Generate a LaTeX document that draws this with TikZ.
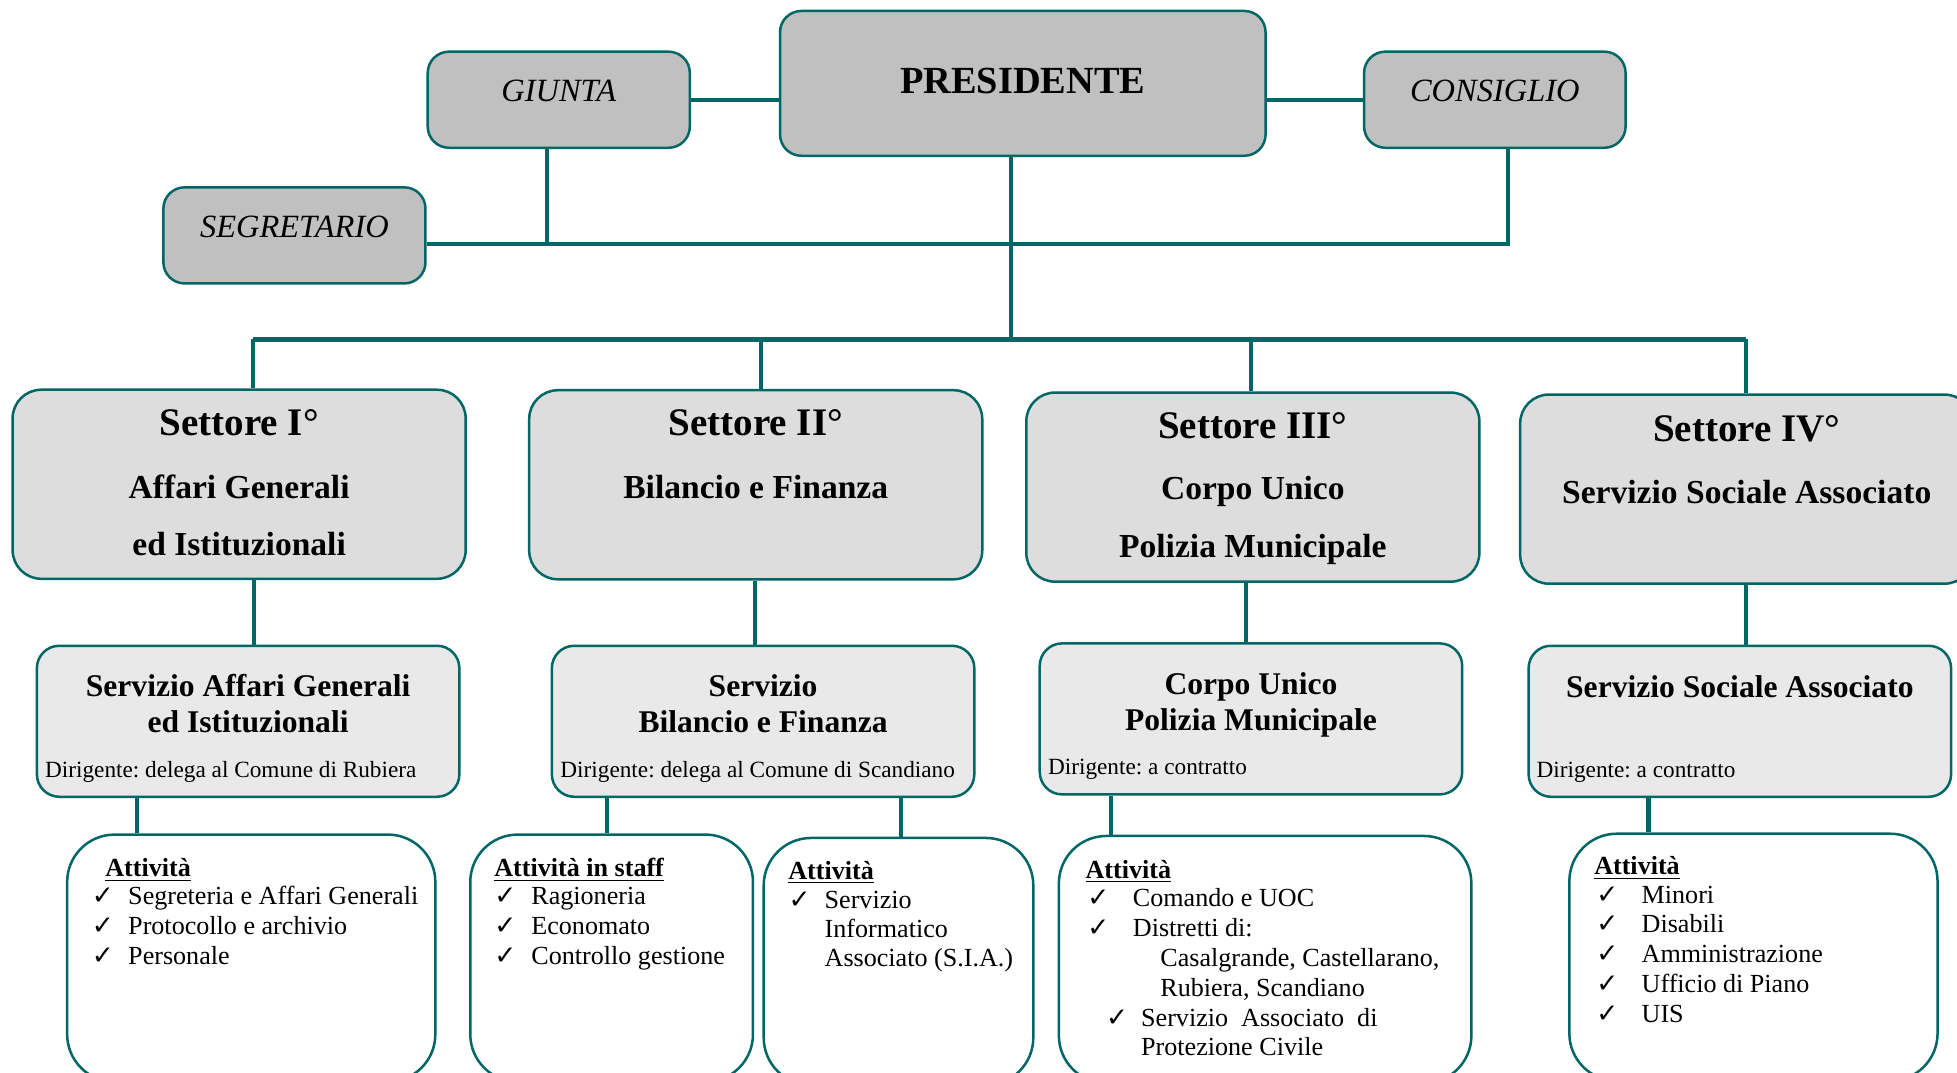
\documentclass[tikz,border=0pt]{standalone}
\usepackage{fontspec}
\setmainfont{Liberation Serif}
\newfontfamily\symfont{DejaVu Sans}
\usetikzlibrary{positioning}
\frenchspacing

\definecolor{tealline}{RGB}{0,102,102}
\definecolor{topgray}{RGB}{192,192,192}
\definecolor{settgray}{RGB}{221,221,221}
\definecolor{servgray}{RGB}{233,233,233}

\newcommand{\fpres}{\fontsize{17.5}{20}\selectfont\bfseries}
\newcommand{\ftop}{\fontsize{14.8}{16}\selectfont\itshape}
\newcommand{\fsett}{\fontsize{17.8}{19}\selectfont\bfseries}
\newcommand{\fsub}{\fontsize{15.3}{16}\selectfont\bfseries}
\newcommand{\fserv}{\fontsize{14.4}{15}\selectfont\bfseries}
\newcommand{\fdir}{\fontsize{10.6}{11}\selectfont}
\newcommand{\fitem}{\fontsize{11.9}{13.5}\selectfont}
\newcommand{\chk}{{\symfont\fontsize{12}{13}\selectfont ✓}}

\tikzset{
  topbox/.style={draw=tealline, fill=topgray, line width=0.4mm, rounded corners=3.4mm, inner sep=0pt, minimum width=42mm, minimum height=15.4mm},
  settbox/.style={draw=tealline, fill=settgray, line width=0.4mm, rounded corners=4.6mm, inner sep=0pt, minimum width=72.6mm, minimum height=30.3mm},
  servbox/.style={draw=tealline, fill=servgray, line width=0.4mm, rounded corners=3.6mm, inner sep=0pt, minimum width=67.7mm, minimum height=24.2mm},
  attbox/.style={draw=tealline, fill=white, line width=0.4mm, rounded corners=7.6mm, inner sep=0pt, minimum height=39.6mm, anchor=north west},
  link/.style={draw=tealline, line width=0.65mm},
  buslink/.style={draw=tealline, line width=0.9mm},
  txt/.style={inner sep=0pt, anchor=base},
  dir/.style={inner sep=0pt, anchor=base west, font=\fdir},
  item/.style={inner sep=0pt, anchor=base west, font=\fitem}
}

\begin{document}
\begin{tikzpicture}[x=0.2mm, y=-0.2mm]
  \useasboundingbox (0,0) rectangle (1568,859);
  \clip (0,0) rectangle (1568,859);

  % vertici
  \node[topbox, minimum width=77.8mm, minimum height=23.2mm] (pres) at (819.5,66.8) {};
  \node[topbox] (giunta) at (447.7,79.9) {};
  \node[topbox, minimum width=41.9mm] (consiglio) at (1197.7,79.9) {};
  \node[topbox] (segr) at (235.9,188.6) {};
  \node[txt, font=\fpres] (prestxt) at (819.5,75) {PRESIDENTE};
  \node[txt, font=\ftop] (giuntatxt) at (447.7,81) {GIUNTA};
  \node[txt, font=\ftop] (consigliotxt) at (1197.7,81) {CONSIGLIO};
  \node[txt, font=\ftop] (segrtxt) at (235.9,190) {SEGRETARIO};

  % linee tra i vertici
  \draw[link] (giunta.east) -- (giunta.east -| pres.west);
  \draw[link] (pres.east |- consiglio.west) -- (consiglio.west);
  \coordinate (jg) at (438.6,195.3);
  \coordinate (jc) at (1208,195.3);
  \coordinate (jp) at (810,273);
  \draw[link] (giunta.south -| jg) -- (jg);
  \draw[link] (segr.east |- jc) -- (jc) -- (consiglio.south -| jc);
  \draw[link] (pres.south -| jp) -- (jp);

  % settori
  \node[settbox] (sett1) at (191.6,388) {};
  \node[settbox] (sett2) at (605.5,388.4) {};
  \node[settbox] (sett3) at (1003.8,390.3) {};
  \node[settbox] (sett4) at (1399.5,391.9) {};
  \node[txt, font=\fsett] (s1a) at (191.6,349) {Settore I°};
  \node[txt, font=\fsub] (s1b) at (191.6,399.5) {Affari Generali};
  \node[txt, font=\fsub] (s1c) at (191.6,445) {ed Istituzionali};
  \node[txt, font=\fsett] (s2a) at (605.5,349) {Settore II°};
  \node[txt, font=\fsub] (s2b) at (605.5,399.5) {Bilancio e Finanza};
  \node[txt, font=\fsett] (s3a) at (1003.8,351.4) {Settore III°};
  \node[txt, font=\fsub] (s3b) at (1003.8,400.6) {Corpo Unico};
  \node[txt, font=\fsub] (s3c) at (1003.8,447) {Polizia Municipale};
  \node[txt, font=\fsett] (s4a) at (1399.5,353.6) {Settore IV°};
  \node[txt, font=\fsub] (s4b) at (1399.5,403.8) {Servizio Sociale Associato};

  % barra dei settori
  \coordinate (bl) at (203,272);
  \coordinate (br) at (1399,272);
  \draw[buslink] (bl) -- (br);
  \foreach \n/\x in {sett1/203,sett2/610,sett3/1002,sett4/1399}{
    \coordinate (b\n) at (\x,272);
    \draw[link] (b\n) -- (\n.north -| b\n);
  }

  % servizi
  \node[servbox] (serv1) at (198.8,577.9) {};
  \node[servbox] (serv2) at (611.4,577.9) {};
  \node[servbox] (serv3) at (1002.3,576) {};
  \node[servbox] (serv4) at (1394,577.9) {};
  \node[txt, font=\fserv] (v1a) at (198.8,558.4) {Servizio Affari Generali};
  \node[txt, font=\fserv] (v1b) at (198.8,586.7) {ed Istituzionali};
  \node[dir] (v1d) at (35.8,623) {Dirigente: delega al Comune di Rubiera};
  \node[txt, font=\fserv] (v2a) at (611.4,558.4) {Servizio};
  \node[txt, font=\fserv] (v2b) at (611.4,586.7) {Bilancio e Finanza};
  \node[dir] (v2d) at (448.7,623) {Dirigente: delega al Comune di Scandiano};
  \node[txt, font=\fserv] (v3a) at (1002.3,556.5) {Corpo Unico};
  \node[txt, font=\fserv] (v3b) at (1002.3,585.4) {Polizia Municipale};
  \node[dir] (v3d) at (839.4,620.2) {Dirigente: a contratto};
  \node[txt, font=\fserv] (v4a) at (1394,558.7) {Servizio Sociale Associato};
  \node[dir] (v4d) at (1230.8,623) {Dirigente: a contratto};

  \foreach \a/\b/\x in {sett1/serv1/203.4,sett2/serv2/605.2,sett3/serv3/998,sett4/serv4/1399}{
    \coordinate (c\b) at (\x,500);
    \draw[link] (\a.south -| c\b) -- (\b.north -| c\b);
  }

  % attivita
  \node[attbox, minimum width=59mm] (att1) at (52.8,667.7) {};
  \node[attbox, minimum width=45.3mm] (att2) at (375.8,667.7) {};
  \node[attbox, minimum width=43.2mm] (att3) at (610.9,670.4) {};
  \node[attbox, minimum width=66.1mm] (att4) at (847.4,668.8) {};
  \node[attbox, minimum width=59mm] (att5) at (1256.4,667) {};

  \foreach \a/\b/\x in {serv1/att1/110,serv2/att2/486.5,serv2/att3/721.6,serv3/att4/890.3,serv4/att5/1320.8}{
    \coordinate (d\b) at (\x,650);
    \draw[link] (\a.south -| d\b) -- (\b.north -| d\b);
  }

  % elenco 1
  \node[item] (h1) at (84,702.5) {\bfseries\underline{Attività}};
  \foreach \t [count=\i from 0] in {Segreteria e Affari Generali, Protocollo e archivio, Personale}{
    \node[item] (k1\i) at (73.3,{725+23.7*\i}) {\chk};
    \node[item] (e1\i) at (102.4,{725+23.7*\i}) {\t};
  }
  % elenco 2
  \node[item] (h2) at (395.7,702.5) {\bfseries\underline{Attività in staff}};
  \foreach \t [count=\i from 0] in {Ragioneria, Economato, Controllo gestione}{
    \node[item] (k2\i) at (395.8,{725+23.7*\i}) {\chk};
    \node[item] (e2\i) at (425.4,{725+23.7*\i}) {\t};
  }
  % elenco 3
  \node[item] (h3) at (631.3,704.5) {\bfseries\underline{Attività}};
  \node[item] (k30) at (631.6,727.6) {\chk};
  \foreach \t [count=\i from 0] in {Servizio, Informatico, Associato (S.I.A.)}{
    \node[item] (e3\i) at (660.4,{727.6+23.5*\i}) {\t};
  }
  % elenco 4
  \node[item] (h4) at (869.4,703.5) {\bfseries\underline{Attività}};
  \node[item] (k40) at (870.8,726.6) {\chk};
  \node[item] (e40) at (907.4,726.6) {Comando e UOC};
  \node[item] (k41) at (870.8,750.6) {\chk};
  \node[item] (e41) at (907.4,750.6) {Distretti di:};
  \node[item] (e42) at (929.4,774.4) {Casalgrande, Castellarano,};
  \node[item] (e43) at (929.4,798.4) {Rubiera, Scandiano};
  \node[item] (k44) at (885.8,822.5) {\chk};
  \node[item] (e44) at (914,822.5) {Servizio\ \ Associato\ \ di};
  \node[item] (e45) at (914,845.6) {Protezione Civile};
  % elenco 5
  \node[item] (h5) at (1277,700.8) {\bfseries\underline{Attività}};
  \foreach \t [count=\i from 0] in {Minori, Disabili, Amministrazione, Ufficio di Piano, UIS}{
    \node[item] (k5\i) at (1278.6,{723.6+23.9*\i}) {\chk};
    \node[item] (e5\i) at (1315,{723.6+23.9*\i}) {\t};
  }
\end{tikzpicture}
\end{document}
